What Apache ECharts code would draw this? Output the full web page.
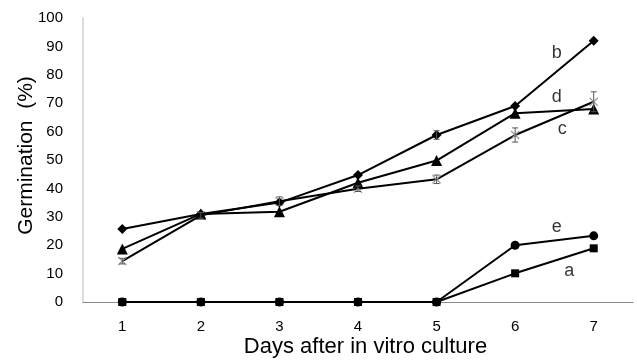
<!DOCTYPE html>
<html><head><meta charset="utf-8">
<script src="https://cdn.jsdelivr.net/npm/echarts@6/dist/echarts.min.js"></script>
<style>html,body{margin:0;padding:0;background:#fff}#c{width:637px;height:363px}</style>
</head><body><div id="c"></div>
<script>
var days = ['1','2','3','4','5','6','7'];
var seriesB = [25.7, 31, 35, 44.7, 58.8, 69, 92];
var seriesD = [18.7, 31, 31.8, 42, 49.8, 66.5, 68];
var seriesC = [14.4, 30.5, 35.5, 39.9, 43.2, 58.8, 70.5];
var seriesE = [0, 0, 0, 0, 0, 20, 23.3];
var seriesA = [0, 0, 0, 0, 0, 10.1, 18.9];
var errC = [1, 1, 1.5, 1, 1.5, 2.5, 3.5];
var errB = [0, 0, 0, 0, 1.5, 0, 0];
var tags = ['b', 'd', 'c', 'e', 'a'];
var tagX = [6.53, 6.53, 6.6, 6.53, 6.69];
var tagY = [87.7, 72.2, 60.9, 26.4, 10.9];

var chart = echarts.init(document.getElementById('c'), null, {renderer: 'canvas'});
var FONT = "'Liberation Sans', Arial, sans-serif";
var starPath = 'path://M0,1 L1,0 L5,4 L9,0 L10,1 L6,5 L10,9 L9,10 L5,6 L1,10 L0,9 L4,5 Z';

function errSeries(vals, errs, color) {
  var d = vals.map(function (v, i) { return [i, v, errs[i]]; }).filter(function (r) { return r[2] > 0; });
  return {
    type: 'custom', xAxisIndex: 0, yAxisIndex: 0, z: 5, silent: true,
    data: d,
    renderItem: function (params, api) {
      var x = api.value(0), v = api.value(1), e = api.value(2);
      var hi = api.coord([x, v + e]), lo = api.coord([x, v - e]);
      var w = 3;
      return {type: 'group', children: [
        {type: 'line', shape: {x1: hi[0], y1: hi[1], x2: lo[0], y2: lo[1]}, style: {stroke: color, lineWidth: 1}},
        {type: 'line', shape: {x1: hi[0]-w, y1: hi[1], x2: hi[0]+w, y2: hi[1]}, style: {stroke: color, lineWidth: 1}},
        {type: 'line', shape: {x1: lo[0]-w, y1: lo[1], x2: lo[0]+w, y2: lo[1]}, style: {stroke: color, lineWidth: 1}}
      ]};
    }
  };
}

function lineSeries(vals, symbol, size, color, z) {
  return {
    type: 'line', data: vals, symbol: symbol, symbolSize: size, z: z,
    lineStyle: {color: '#000', width: 2},
    itemStyle: {color: color, borderWidth: 0},
    animation: false
  };
}

chart.setOption({
  animation: false,
  textStyle: {fontFamily: FONT},
  grid: {left: 83, right: 4, top: 18, bottom: 61, containLabel: false, outerBoundsMode: 'none'},
  xAxis: [{
    type: 'category', data: days, boundaryGap: true,
    axisLine: {lineStyle: {color: '#8c8c8c', width: 1}},
    axisTick: {show: false},
    axisLabel: {color: '#000', fontSize: 15, fontFamily: FONT, margin: 17},
    name: 'Days after in vitro culture', nameLocation: 'middle', nameGap: 34, nameMoveOverlap: false,
    nameTextStyle: {color: '#000', fontSize: 22, fontFamily: FONT, padding: [0, 0, 0, 15]}
  }, {
    type: 'value', min: 0.5, max: 7.5, show: false
  }],
  yAxis: {
    type: 'value', min: 0, max: 100, interval: 10,
    axisLine: {show: true, lineStyle: {color: '#d0d0d0', width: 1.5}},
    axisTick: {show: false},
    splitLine: {show: false},
    axisLabel: {color: '#000', fontSize: 15, fontFamily: FONT, margin: 20},
    name: 'Germination  (%)', nameLocation: 'middle', nameGap: 46, nameMoveOverlap: false,
    nameTextStyle: {color: '#000', fontSize: 21, fontFamily: FONT, padding: [0, 0, 0, 9]}
  },
  series: [
    lineSeries(seriesA, 'rect', 8, '#000', 2),
    lineSeries(seriesE, 'circle', 9, '#000', 2),
    lineSeries(seriesC, starPath, 9, '#9a9a9a', 3),
    lineSeries(seriesD, 'triangle', 11, '#000', 3),
    lineSeries(seriesB, 'diamond', 10, '#000', 4),
    errSeries(seriesC, errC, '#555'),
    errSeries(seriesB, errB, '#555'),
    {
      type: 'scatter', xAxisIndex: 1, yAxisIndex: 0, symbolSize: 0, silent: true, z: 10,
      data: tags.map(function (t, i) { return {value: [tagX[i], tagY[i]], name: t}; }),
      label: {show: true, position: 'inside', formatter: '{b}', color: '#000', fontSize: 18, fontFamily: FONT}
    }
  ]
});
</script></body></html>
